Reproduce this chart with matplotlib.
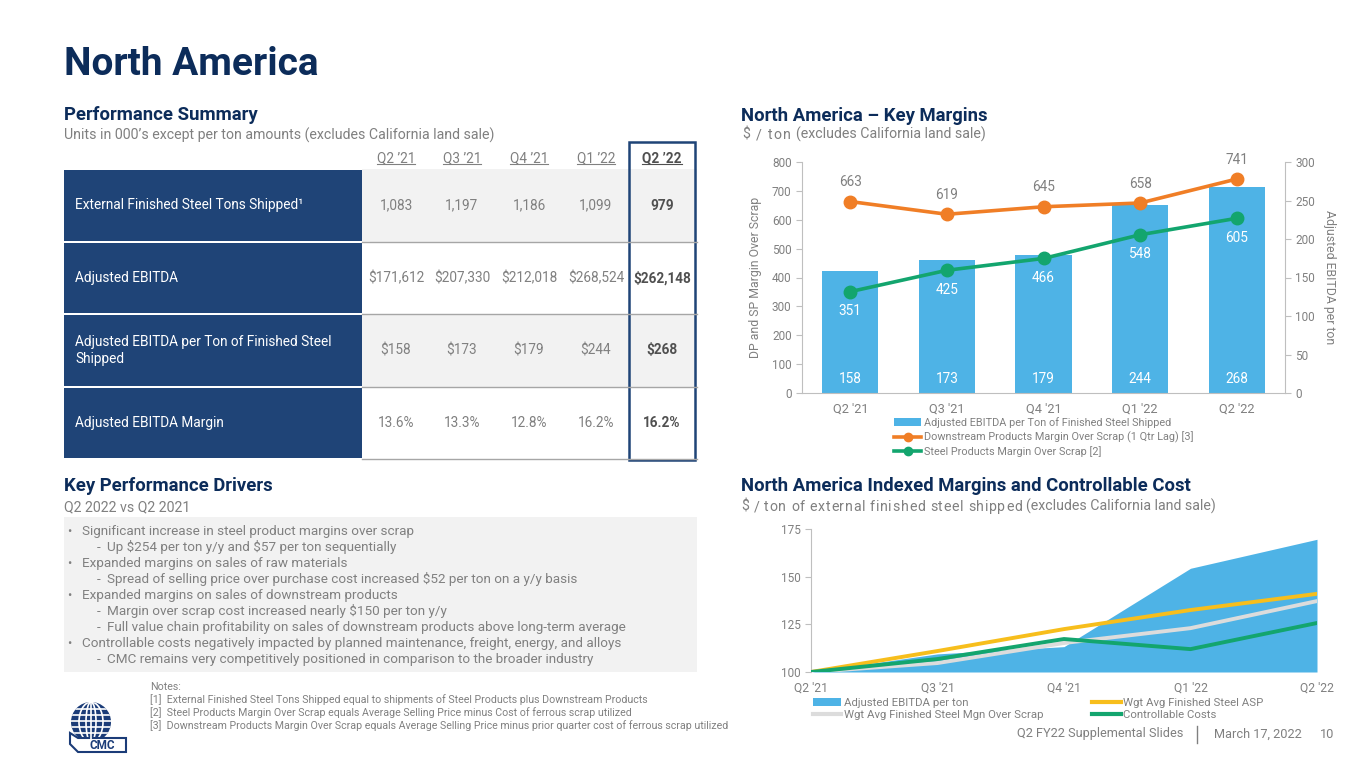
import matplotlib
matplotlib.use('Agg')
import matplotlib.pyplot as plt
from matplotlib.patches import Rectangle, Circle, Ellipse, Polygon, Patch
from matplotlib.lines import Line2D
from matplotlib.font_manager import FontProperties
import numpy as np

FAMILY = ['Roboto', 'DejaVu Sans']
plt.rcParams['font.family'] = FAMILY
plt.rcParams['text.parse_math'] = False

# ---------------- data ----------------
quarters = ["Q2 '21", "Q3 '21", "Q4 '21", "Q1 '22", "Q2 '22"]
table_quarters = ["Q2 \u201921", "Q3 \u201921", "Q4 \u201921", "Q1 \u201922", "Q2 \u201922"]
row_labels = ["External Finished Steel Tons Shipped\u00b9", "Adjusted EBITDA",
              "Adjusted EBITDA per Ton of Finished Steel\nShipped", "Adjusted EBITDA Margin"]
tons_shipped = [1083, 1197, 1186, 1099, 979]
adj_ebitda = [171612, 207330, 212018, 268524, 262148]
ebitda_per_ton = [158, 173, 179, 244, 268]
ebitda_margin = [13.6, 13.3, 12.8, 16.2, 16.2]

dp_margin = [663, 619, 645, 658, 741]
sp_margin = [351, 425, 466, 548, 605]

idx_ebitda = [100, 109.5, 113.3, 154.4, 169.6]
idx_asp = [100, 111.0, 122.5, 132.5, 141.0]
idx_mgn = [100, 104.7, 115.2, 123.0, 137.2]
idx_cost = [100, 106.8, 117.3, 112.0, 125.7]

drivers = [
    (0, "Significant increase in steel product margins over scrap"),
    (1, "Up $254 per ton y/y and $57 per ton sequentially"),
    (0, "Expanded margins on sales of raw materials"),
    (1, "Spread of selling price over purchase cost increased $52 per ton on a y/y basis"),
    (0, "Expanded margins on sales of downstream products"),
    (1, "Margin over scrap cost increased nearly $150 per ton y/y"),
    (1, "Full value chain profitability on sales of downstream products above long-term average"),
    (0, "Controllable costs negatively impacted by planned maintenance, freight, energy, and alloys"),
    (1, "CMC remains very competitively positioned in comparison to the broader industry"),
]
notes = [
    "Notes:",
    "[1]  External Finished Steel Tons Shipped equal to shipments of Steel Products plus Downstream Products",
    "[2]  Steel Products Margin Over Scrap equals Average Selling Price minus Cost of ferrous scrap utilized",
    "[3]  Downstream Products Margin Over Scrap equals Average Selling Price minus prior quarter cost of ferrous scrap utilized",
]

# ---------------- style ----------------
NAVY = '#0C2C5A'
TNAVY = '#1F4477'
GRAY = '#808080'
DGRAY = '#505050'
AXC = '#BFBFBF'
BLUE = '#4EB3E6'
ORANGE = '#F07E26'
GREEN = '#13A56E'
YELLOW = '#F7BE1C'
LGRAY = '#DCDCDC'

W, H = 1365, 768
fig = plt.figure(figsize=(W / 100, H / 100), dpi=100)
renderer = fig.canvas.get_renderer()


def fx(x):
    return x / W


def fy(y):
    return 1 - y / H


def rect(x0, y0, x1, y1, **kw):
    r = Rectangle((fx(x0), fy(y1)), (x1 - x0) / W, (y1 - y0) / H,
                  transform=fig.transFigure, **kw)
    fig.add_artist(r)
    return r


def hline(x0, x1, y, **kw):
    fig.add_artist(Line2D([fx(x0), fx(x1)], [fy(y), fy(y)], transform=fig.transFigure, **kw))


def txt(x, y, s, **kw):
    return fig.text(fx(x), fy(y), s, **kw)


def text_w(s, size):
    fp = FontProperties(family=FAMILY, size=size)
    w, _, _ = renderer.get_text_width_height_descent(s + '|', fp, ismath=False)
    w0, _, _ = renderer.get_text_width_height_descent('|', fp, ismath=False)
    return w - w0


def tracked_subtitle(x, y, spaced, rest, size, track, **kw):
    for i, ch in enumerate(spaced):
        off = text_w(spaced[:i], size) if i > 0 else 0
        txt(x + off + i * track, y, ch, fontsize=size, va='baseline', **kw)
    xr = x + text_w(spaced + ' ', size) + len(spaced) * track
    txt(xr, y, rest, fontsize=size, va='baseline', **kw)


# ---------------- headings ----------------
HS = 13.3
txt(64, 75, "North America", fontsize=28, fontweight='bold', color=NAVY, va='baseline')
txt(64, 120, "Performance Summary", fontsize=HS, fontweight='bold', color=NAVY, va='baseline')
txt(64, 140, "Units in 000\u2019s except per ton amounts (excludes California land sale)",
    fontsize=10.2, color=GRAY, va='baseline')
txt(741, 121, "North America \u2013 Key Margins", fontsize=HS, fontweight='bold', color=NAVY, va='baseline')
tracked_subtitle(742, 139, "$ / ton", "(excludes California land sale)", 10.2, 1.3, color=GRAY)
txt(64, 491, "Key Performance Drivers", fontsize=HS, fontweight='bold', color=NAVY, va='baseline')
txt(64, 511, "Q2 2022 vs Q2 2021", fontsize=10.2, color=GRAY, va='baseline')
txt(741, 491, "North America Indexed Margins and Controllable Cost", fontsize=HS,
    fontweight='bold', color=NAVY, va='baseline')
tracked_subtitle(741, 511, "$ / ton of external finished steel shipped",
                 "(excludes California land sale)", 10.2, 0.68, color=GRAY)

# ---------------- table ----------------
row_bounds = [169, 242, 314, 387, 459]
col_centers = [396, 462, 529, 596, 662]
LX0, LX1, DX1 = 64, 362, 697
TS = 9.8

row_values = [
    [f"{v:,}" for v in tons_shipped],
    [f"${v:,}" for v in adj_ebitda],
    [f"${v}" for v in ebitda_per_ton],
    [f"{v:.1f}%" for v in ebitda_margin],
]

for r in range(4):
    top, bot = row_bounds[r], row_bounds[r + 1]
    rect(LX0, top + 1, LX1, bot - 1, facecolor=TNAVY, edgecolor='none')
    if r % 2 == 0:
        rect(LX1, top, DX1, bot, facecolor='#F2F2F2', edgecolor='none')
    hline(LX1, DX1, bot, color='#A6A6A6', lw=1.0)
    txt(75, (top + bot) / 2, row_labels[r], fontsize=TS, color='white', va='center',
        linespacing=1.25)
    for c in range(5):
        bold = (c == 4)
        txt(col_centers[c], (top + bot) / 2, row_values[r][c], fontsize=TS,
            color=DGRAY if bold else GRAY, fontweight='bold' if bold else 'normal',
            ha='center', va='center')

hdr_texts = []
for c in range(5):
    bold = (c == 4)
    t = txt(col_centers[c], 158, table_quarters[c], fontsize=TS,
            color=DGRAY if bold else GRAY, fontweight='bold' if bold else 'normal',
            ha='center', va='center')
    hdr_texts.append((t, bold))

rect(629, 142, 695, 460, facecolor='none', edgecolor=TNAVY, lw=1.8)

# ---------------- key drivers box ----------------
DS = 9.7
rect(64, 517, 697, 672, facecolor='#F2F2F2', edgecolor='none')
for i, (lvl, s) in enumerate(drivers):
    y = 531 + i * 16.1
    if lvl == 0:
        txt(67, y, "\u2022", fontsize=9, color=GRAY, va='center')
        txt(82, y, s, fontsize=DS, color=GRAY, va='center')
    else:
        txt(97, y, "-", fontsize=DS, color=GRAY, va='center')
        txt(107, y, s, fontsize=DS, color=GRAY, va='center')

# ---------------- notes ----------------
for i, s in enumerate(notes):
    txt(150, 687 + i * 12.8, s, fontsize=7.7, color=GRAY, va='center')

# ---------------- logo ----------------
lax = fig.add_axes([fx(64), fy(756), 66 / W, 56 / H])
lax.set_xlim(0, 66)
lax.set_ylim(56, 0)
lax.set_aspect('equal')
lax.axis('off')
glob = Circle((27, 22), 20, facecolor='#1B3C78', edgecolor='none')
lax.add_patch(glob)
for yy in [9, 15, 21, 27, 33]:
    ln, = lax.plot([0, 60], [yy, yy], color='white', lw=1.2)
    ln.set_clip_path(glob)
for wd in [10, 24]:
    e = Ellipse((27, 22), wd, 40, facecolor='none', edgecolor='white', lw=1.2)
    lax.add_patch(e)
    e.set_clip_path(glob)
ln, = lax.plot([27, 27], [0, 45], color='white', lw=1.2)
ln.set_clip_path(glob)
ribbon = Polygon([[6, 33], [14, 38], [62, 38], [62, 52], [14, 52], [6, 44]],
                 closed=True, facecolor='white', edgecolor='#1B3C78', lw=1.5)
lax.add_patch(ribbon)
lax.text(38, 45.5, "CMC", fontsize=8.5, fontweight='bold', color='#1B3C78', ha='center', va='center')

# ---------------- chart 1: key margins ----------------
x = np.arange(len(quarters))
ax1 = fig.add_axes([fx(802), fy(393), (1285 - 802) / W, (393 - 162) / H])
axr = ax1.twinx()
axr.bar(x, ebitda_per_ton, width=0.58, color=BLUE, zorder=2)
axr.set_ylim(0, 300)
axr.set_yticks(range(0, 301, 50))
ax1.set_ylim(0, 800)
ax1.set_yticks(range(0, 801, 100))
ax1.set_xlim(-0.5, 4.5)
ax1.set_zorder(axr.get_zorder() + 1)
ax1.patch.set_visible(False)

ax1.plot(x, dp_margin, color=ORANGE, lw=2.6, marker='o', ms=9, zorder=3)
ax1.plot(x, sp_margin, color=GREEN, lw=2.6, marker='o', ms=9, zorder=3)
for i in range(5):
    ax1.annotate(str(dp_margin[i]), (x[i], dp_margin[i]), xytext=(0, 14),
                 textcoords='offset points', ha='center', va='center', color=GRAY, fontsize=9.8)
    ax1.annotate(str(sp_margin[i]), (x[i], sp_margin[i]), xytext=(0, -14),
                 textcoords='offset points', ha='center', va='center', color='white', fontsize=9.8)
    axr.annotate(str(ebitda_per_ton[i]), (x[i], 0), xytext=(0, 10),
                 textcoords='offset points', ha='center', va='center', color='white', fontsize=9.8)

for a in (ax1, axr):
    for s in a.spines.values():
        s.set_visible(False)
    a.tick_params(colors=AXC, labelcolor=GRAY, labelsize=8.5, length=4, width=0.8)
ax1.spines['left'].set_visible(True)
ax1.spines['left'].set_color(AXC)
ax1.spines['bottom'].set_visible(True)
ax1.spines['bottom'].set_color(AXC)
axr.spines['right'].set_visible(True)
axr.spines['right'].set_color(AXC)
ax1.set_xticks(x)
ax1.set_xticklabels(quarters)
ax1.tick_params(axis='x', length=0, pad=7, labelsize=9.2)
ax1.set_ylabel("DP and SP Margin Over Scrap", color=GRAY, fontsize=8.8)
ax1.yaxis.set_label_coords(-0.083, 0.5)
axr.set_ylabel("Adjusted EBITDA per ton", color=GRAY, fontsize=8.8, rotation=270, va='center')
axr.yaxis.set_label_coords(1.093, 0.5)

h1 = [Patch(facecolor=BLUE, edgecolor='none'),
      Line2D([], [], color=ORANGE, lw=2.6, marker='o', ms=6),
      Line2D([], [], color=GREEN, lw=2.6, marker='o', ms=6)]
l1 = ["Adjusted EBITDA per Ton of Finished Steel Shipped",
      "Downstream Products Margin Over Scrap (1 Qtr Lag) [3]",
      "Steel Products Margin Over Scrap [2]"]
fig.legend(h1, l1, loc='upper left', bbox_to_anchor=(fx(894), fy(417)), frameon=False,
           fontsize=7.8, labelcolor=GRAY, handlelength=2.5, handletextpad=0.3,
           labelspacing=0.32, borderpad=0, borderaxespad=0)

# ---------------- chart 2: indexed ----------------
ax2 = fig.add_axes([fx(811), fy(672), (1317 - 811) / W, (672 - 529) / H])
ax2.fill_between(x, 100, idx_ebitda, color=BLUE, lw=0, zorder=1)
ax2.plot(x, idx_mgn, color=LGRAY, lw=2.8, zorder=2)
ax2.plot(x, idx_asp, color=YELLOW, lw=2.8, zorder=3)
ax2.plot(x, idx_cost, color=GREEN, lw=2.8, zorder=4)
ax2.set_xlim(0, 4)
ax2.set_ylim(100, 175)
ax2.set_yticks([100, 125, 150, 175])
ax2.set_xticks(x)
ax2.set_xticklabels(quarters)
for s in ax2.spines.values():
    s.set_visible(False)
ax2.spines['left'].set_visible(True)
ax2.spines['left'].set_color(AXC)
ax2.tick_params(colors=AXC, labelcolor=GRAY, labelsize=8.5, length=4, width=0.8)
ax2.tick_params(axis='x', length=0, pad=7, labelsize=8.7)
ax2.patch.set_visible(False)

h2 = [Patch(facecolor=BLUE, edgecolor='none'),
      Line2D([], [], color=LGRAY, lw=3),
      Line2D([], [], color=YELLOW, lw=3),
      Line2D([], [], color=GREEN, lw=3)]
l2 = ["Adjusted EBITDA per ton", "Wgt Avg Finished Steel Mgn Over Scrap",
      "Wgt Avg Finished Steel ASP", "Controllable Costs"]
fig.legend(h2, l2, loc='upper left', bbox_to_anchor=(fx(813), fy(698)), ncol=2, frameon=False,
           fontsize=8.2, labelcolor=GRAY, handlelength=2.5, handletextpad=0.2,
           labelspacing=0.15, columnspacing=4.3, borderpad=0, borderaxespad=0)

# ---------------- footer ----------------
txt(1183, 734, "Q2 FY22 Supplemental Slides", fontsize=9.2, color=GRAY, ha='right', va='center')
fig.add_artist(Line2D([fx(1197), fx(1197)], [fy(726), fy(743)], color=GRAY, lw=1.0,
                      transform=fig.transFigure))
txt(1302, 734, "March 17, 2022", fontsize=9.2, color=GRAY, ha='right', va='center')
txt(1334, 734, "10", fontsize=9.2, color=GRAY, ha='right', va='center')

# ---------------- header underlines ----------------
fig.canvas.draw()
renderer = fig.canvas.get_renderer()
for t, bold in hdr_texts:
    bb = t.get_window_extent(renderer)
    yline = bb.y0 + 1
    fig.add_artist(Line2D([bb.x0 / W, bb.x1 / W], [yline / H, yline / H],
                          color=DGRAY if bold else GRAY, lw=0.8, transform=fig.transFigure))

fig.savefig('out.png', dpi=100)
